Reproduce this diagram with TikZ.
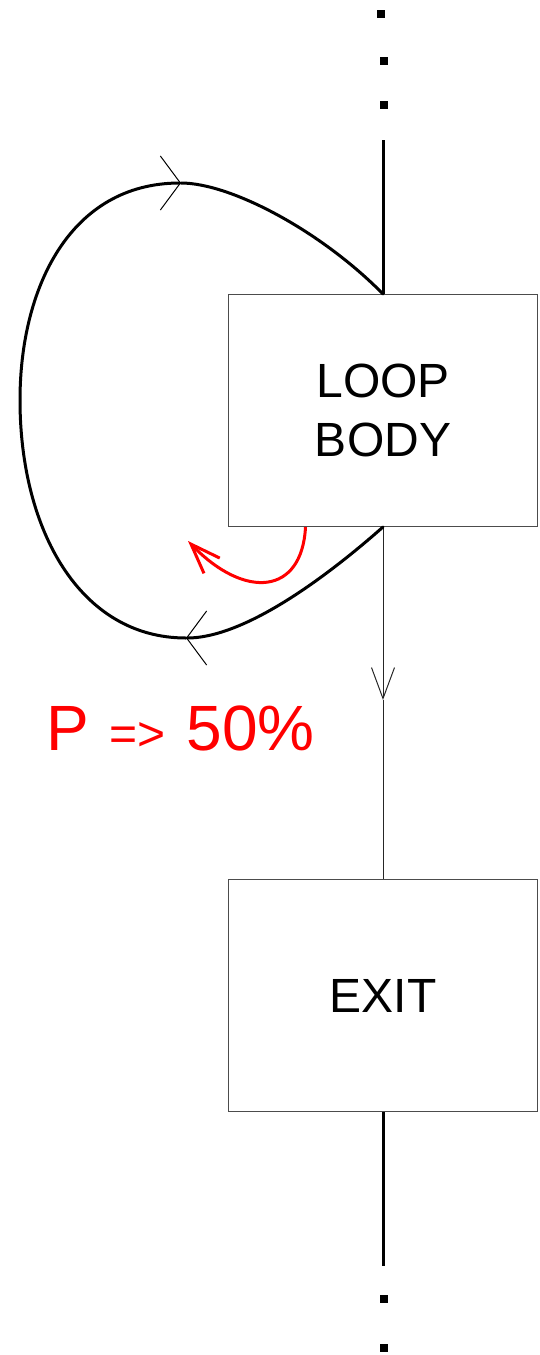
\documentclass[tikz,border=0pt]{standalone}
\usepackage{fontspec}
\setmainfont{Liberation Sans}
\usetikzlibrary{arrows.meta,calc}

\begin{document}
\begin{tikzpicture}[x=1pt, y=-1pt,
    blockbox/.style={draw=black!70, line width=1pt, minimum width=309pt, minimum height=232pt, inner sep=0pt, align=center, font=\fontsize{48}{58.5}\selectfont},
    dotsq/.style={fill=black, inner sep=0pt, minimum size=8pt},
    heavyline/.style={line width=3pt, black},
    loopline/.style={line width=3pt, black, line cap=round},
    thinline/.style={line width=1pt, black!85},
    loopbarb/.style={-{Straight Barb[length=20pt, width=54pt, line width=1pt]}},
    exitbarb/.style={-{Straight Barb[length=31pt, width=23pt, line width=1pt]}},
    hintarrow/.style={red, line width=3pt, -{Straight Barb[length=30pt, width=22pt, line width=3pt]}}
]
    \useasboundingbox (0,0) rectangle (539,1355);

    % Dots above and below
    \node[dotsq] (d1) at (381,13.5) {};
    \node[dotsq] (d2) at (384,60.5) {};
    \node[dotsq] (d3) at (384,104.5) {};
    \node[dotsq] (d4) at (384,1298.5) {};
    \node[dotsq] (d5) at (384,1347.5) {};

    % Blocks
    \node[blockbox] (body) at (383,410.5) {LOOP\\BODY};
    \node[blockbox] (exit) at (383,995.5) {EXIT};

    % Free ends and turning points
    \coordinate (topend) at (383,140);
    \coordinate (botend) at (383,1266);
    \coordinate (lowpt) at (186,638);
    \coordinate (leftpt) at (20,400);
    \coordinate (highpt) at (181,183);
    \coordinate (midarr) at (383,700);
    \coordinate (redtip) at (188,541);

    % Straight lines
    \draw[heavyline] (topend) -- (body.north);
    \draw[heavyline] (exit.south) -- (botend);
    \draw[thinline, exitbarb] (body.south) -- (midarr);
    \draw[thinline] (midarr) -- (exit.north);

    % Back edge of the loop
    \draw[loopline, loopbarb] (body.south) .. controls (340,565) and (250,638) .. (lowpt);
    \draw[loopline, loopbarb] (lowpt) .. controls (80,638) and (20,530) .. (leftpt)
        .. controls (20,288) and (70,183) .. (highpt);
    \draw[loopline] (highpt) .. controls (230,183) and (320,230) .. (body.north);

    % Probability hint
    \draw[hintarrow] ($(body.south west)!0.25!(body.south east)$) .. controls (302,595) and (245,600) .. (redtip);
    \node[anchor=base west, text=red, inner sep=0pt, font=\fontsize{64}{64}\selectfont] (prob) at (46,750) {P\kern3pt{} {\fontsize{48}{48}\selectfont =>}\kern3pt{} 50\%};
\end{tikzpicture}
\end{document}
